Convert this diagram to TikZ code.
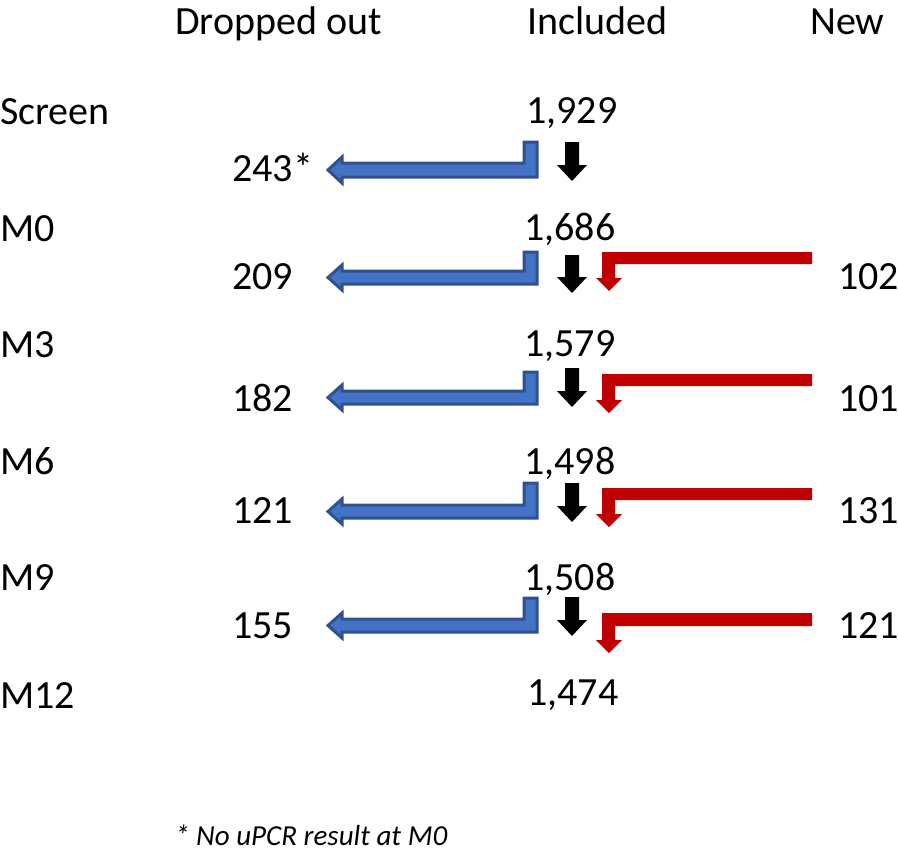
\documentclass[tikz,border=0pt]{standalone}
\usepackage{fontspec}
\setmainfont{Carlito}
\definecolor{bfill}{HTML}{4472C4}
\definecolor{bline}{HTML}{2F528F}
\definecolor{rfill}{HTML}{C00000}
\begin{document}
\begin{tikzpicture}[x=1pt,y=-1pt,
  lbl/.style={inner sep=0pt,anchor=base west,font=\fontsize{40}{48}\selectfont},
  note/.style={inner sep=0pt,anchor=base west,font=\fontsize{29}{35}\selectfont\itshape},
  dropbox/.style={fill=bfill,draw=bline,line width=3pt,line join=miter},
  newbox/.style={fill=rfill,draw=none},
  keepbox/.style={fill=black,draw=none}]
\useasboundingbox (0,0) rectangle (898,857);
% headers
\node[lbl] (hd) at (175,34) {Dropped out};
\node[lbl] (hi) at (527,34) {Included};
\node[lbl] (hn) at (810,34) {New};
% row labels
\node[lbl] (r0) at (0,124) {Screen};
\node[lbl] (r1) at (0,241) {M0};
\node[lbl] (r2) at (0,357) {M3};
\node[lbl] (r3) at (0,474) {M6};
\node[lbl] (r4) at (0,590) {M9};
\node[lbl] (r5) at (0,708) {M12};
% included
\node[lbl] (i0) at (526,123) {1,929};
\node[lbl] (i1) at (524,240) {1,686};
\node[lbl] (i2) at (524,356) {1,579};
\node[lbl] (i3) at (524,474) {1,498};
\node[lbl] (i4) at (524,590) {1,508};
\node[lbl] (i5) at (527,705) {1,474};
% dropped
\node[lbl] (d0) at (232,181) {243*};
\node[lbl] (d1) at (232,289) {209};
\node[lbl] (d2) at (232,411) {182};
\node[lbl] (d3) at (232,523) {121};
\node[lbl] (d4) at (232,638) {155};
% new
\node[lbl] (n1) at (838,289) {102};
\node[lbl] (n2) at (838,411) {101};
\node[lbl] (n3) at (838,523) {131};
\node[lbl] (n4) at (838,638) {121};
% footnote
\node[note] (fn) at (175,845) {* No uPCR result at M0};
% blue bent arrows: top, shaft top, shaft bottom
\foreach \T/\A/\B in {142/163/177, 252/271/284, 372/391/404, 483/505/518, 598/619/632}{
  \draw[dropbox] (524,\T) -- (537,\T) -- (537,\B) -- (342,\B) -- (342,\B+6)
     -- (328,{(\A+\B)/2}) -- (342,\A-6) -- (342,\A) -- (524,\A) -- cycle;
}
% black arrows: top, tip
\foreach \T/\P in {142/181, 255/293, 368/407, 483/522, 597/636}{
  \fill[keepbox] (565,\T) -- (579,\T) -- (579,\P-16) -- (587,\P-16) -- (572,\P)
     -- (557,\P-16) -- (565,\P-16) -- cycle;
}
% red bent arrows: band top, band bottom, tip
\foreach \T/\B/\P in {252/264/291, 374/386/413, 488/500/527, 613/626/653}{
  \fill[newbox] (812,\T) -- (602,\T) -- (602,\P-13) -- (596,\P-13) -- (609,\P)
     -- (622,\P-13) -- (615,\P-13) -- (615,\B) -- (812,\B) -- cycle;
}
\end{tikzpicture}
\end{document}
